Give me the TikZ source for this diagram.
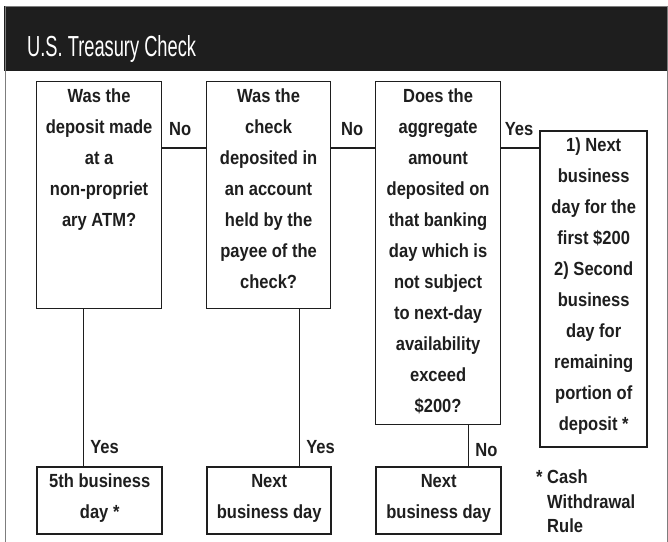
\documentclass[tikz,border=0pt]{standalone}
\usepackage{fontspec}
\setmainfont{Liberation Sans}[FakeStretch=0.87]
\newfontfamily\titlefont{Liberation Sans}[FakeStretch=0.63]
\definecolor{inkdark}{RGB}{30, 30, 30}
\definecolor{framegray}{RGB}{125, 125, 125}
\usetikzlibrary{positioning, calc}

% text of a box, set from the top of the box
\newcommand{\boxbody}[3]{\parbox[t][#1][t]{#2}{\centering\rule{0pt}{20.5pt}#3}}

\tikzset{
  qbox/.style={draw=inkdark, line width=1.2pt, inner sep=0pt, anchor=north west,
    text=inkdark, font=\fontsize{19}{31}\selectfont\bfseries},
  abox/.style={qbox, line width=2.4pt},
  link/.style={draw=inkdark, line width=1.5pt},
  tag/.style={text=inkdark, font=\fontsize{19}{20}\selectfont\bfseries, inner sep=0pt}
}

\begin{document}
\begin{tikzpicture}[x=1pt, y=-1pt]
  \useasboundingbox (0,0) rectangle (668,541);
  % frame and header
  \fill[inkdark] (4,6) rectangle (668,71);
  \draw[framegray, line width=1pt] (5,6) -- (5,545) (667,6) -- (667,545) (5,6) -- (667,6);
  \node[anchor=base west, text=white, inner sep=0pt,
    font=\fontsize{29}{30}\selectfont\titlefont] (title) at (27,56) {U.S. Treasury Check};

  % questions
  \node[qbox] (q1) at (36,81) {\boxbody{227pt}{125pt}{Was the\\deposit made\\at a\\non-propriet\\ary ATM?}};
  \node[qbox] (q2) at (206,81) {\boxbody{227pt}{124pt}{Was the\\check\\deposited in\\an account\\held by the\\payee of the\\check?}};
  \node[qbox] (q3) at (375,81) {\boxbody{343pt}{125pt}{Does the\\aggregate\\amount\\deposited on\\that banking\\day which is\\not subject\\to next-day\\availability\\exceed\\\$200?}};

  % answers
  \node[abox] (a4) at (539,130) {\boxbody{316pt}{107pt}{1) Next\\business\\day for the\\first \$200\\2) Second\\business\\day for\\remaining\\portion of\\deposit *}};
  \node[abox] (a1) at (36,466) {\boxbody{67pt}{125pt}{5th business\\day *}};
  \node[abox] (a2) at (206,466) {\boxbody{67pt}{124pt}{Next\\business day}};
  \node[abox] (a3) at (375,466) {\boxbody{67pt}{125pt}{Next\\business day}};

  \node[anchor=north west, inner sep=0pt, text=inkdark, align=left,
    font=\fontsize{19}{24.5}\selectfont\bfseries] (note) at (536,470)
    {*\ Cash\\\phantom{*\ }Withdrawal\\\phantom{*\ }Rule};

  % connectors
  \coordinate (row) at (0,148);
  \draw[link] (q1.east |- row) -- node[tag, above=12pt, xshift=-4pt] {No} (q2.west |- row);
  \draw[link] (q2.east |- row) -- node[tag, above=12pt, xshift=-1pt] {No} (q3.west |- row);
  \draw[link] (q3.east |- row) -- node[tag, above=12pt, xshift=-1pt] {Yes} (a4.west |- row);
  \draw[link] ([xshift=-15.5pt]q1.south) -- node[tag, pos=0.88, right=6pt] {Yes} ([xshift=-15.5pt]q1.south |- a1.north);
  \draw[link] ([xshift=31pt]q2.south) -- node[tag, pos=0.88, right=6pt] {Yes} ([xshift=31pt]q2.south |- a2.north);
  \draw[link] ([xshift=30.5pt]q3.south) -- node[tag, pos=0.6, right=6pt] {No} ([xshift=30.5pt]q3.south |- a3.north);
\end{tikzpicture}
\end{document}
